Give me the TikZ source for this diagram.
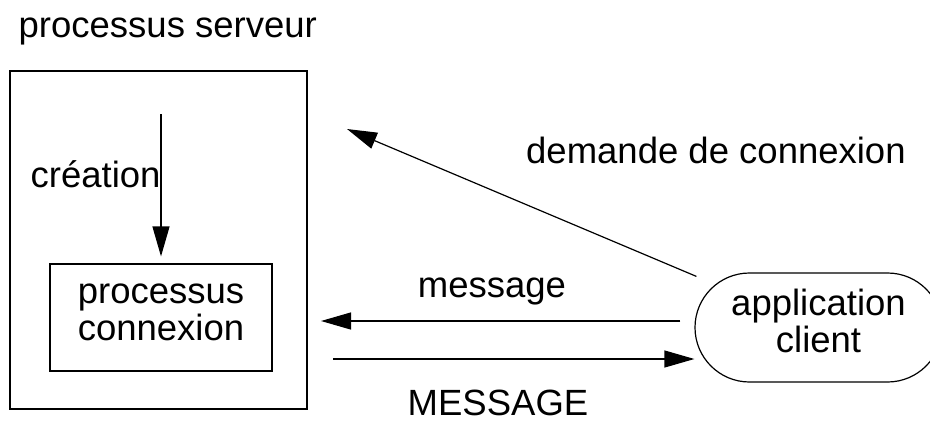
\documentclass[tikz,border=0pt]{standalone}
\usepackage{fontspec}
\setmainfont{Liberation Sans}
\usetikzlibrary{arrows.meta,calc}

\tikzset{
  box/.style={draw, line width=1.2pt, inner sep=0pt},
  lbl/.style={inner sep=0pt, font=\fontsize{36.5}{37}\selectfont},
  arrow/.style={line width=1.2pt, -{Triangle[length=30pt,width=17pt]}}
}

\begin{document}
\begin{tikzpicture}[x=1pt, y=-1pt]
  \clip (0,0) rectangle (930,421);

  % server process and the connection process it spawns
  \node[box, minimum width=297pt, minimum height=338pt] (server) at (158.5,240) {};
  \node[box, minimum width=222pt, minimum height=107pt] (inner) at (161,317.5) {};
  \node[lbl, anchor=base west] (title) at (18.5,37) {processus serveur};
  \node[lbl, anchor=base] (inner1) at (161,303) {processus};
  \node[lbl, anchor=base] (inner2) at (161,340) {connexion};

  % client application
  \node[box, rounded corners=54.5pt, minimum width=247pt, minimum height=109pt] (client) at (818.5,327.5) {};
  \node[lbl, anchor=base] (client1) at (818.5,315) {application};
  \node[lbl, anchor=base] (client2) at (818.5,352) {client};

  % creation of the connection process
  \coordinate (spawn) at (161,114);
  \draw[arrow, shorten >=7pt] (spawn) -- (inner.north);
  \node[lbl, anchor=base west] (creation) at (30.5,187) {création};

  % connection request from the client
  \coordinate (reqtip) at (347,129);
  \draw[arrow] ($(client.north west)+(2,4)$) -- (reqtip);
  \node[lbl, anchor=base west] (request) at (526,163) {demande de connexion};

  % message exchange
  \coordinate (msgtip) at (321,321);
  \coordinate (MSGstart) at (333,359);
  \draw[arrow] ($(client.west)+(-14,-6.5)$) -- (msgtip);
  \draw[arrow] (MSGstart) -- (MSGstart -| client.west);
  \node[lbl, anchor=base] (msg) at (492,297) {message};
  \node[lbl, anchor=base] (MSG) at (498,415) {MESSAGE};
\end{tikzpicture}
\end{document}
